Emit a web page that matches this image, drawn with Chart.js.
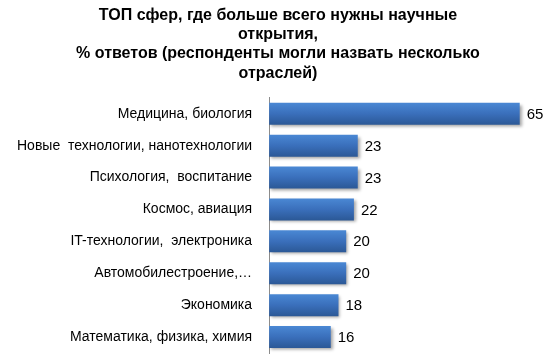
<!DOCTYPE html>
<html>
<head>
<meta charset="utf-8">
<script src="https://cdn.jsdelivr.net/npm/chart.js@4.4.0/dist/chart.umd.min.js"></script>
<style>
  html, body { margin: 0; padding: 0; background: #fff; }
</style>
</head>
<body>
<canvas id="myChart" width="556" height="360"></canvas>
<script>
const titleLines = [
  'ТОП сфер, где больше всего нужны научные',
  'открытия,',
  '% ответов (респонденты могли назвать несколько',
  'отраслей)',
];
const categories = [
  'Медицина, биология',
  'Новые  технологии, нанотехнологии',
  'Психология,  воспитание',
  'Космос, авиация',
  'IT-технологии,  электроника',
  'Автомобилестроение,…',
  'Экономика',
  'Математика, физика, химия',
];
const values = [65, 23, 23, 22, 20, 20, 18, 16];

const FONT = 'Arial, "Liberation Sans", sans-serif';

// blue gradient per bar, from the y scale position of each category
const barFill = (ctx) => {
  const chart = ctx.chart;
  const y = chart.scales.y;
  if (!y || ctx.type !== 'data') return '#3b70bb';
  const c = y.getPixelForValue(ctx.dataIndex);
  const half = (y.height / categories.length) * 0.69 / 2;
  if (!isFinite(c) || !isFinite(half) || half <= 0) return '#3b70bb';
  const g = chart.ctx.createLinearGradient(0, c - half, 0, c + half);
  g.addColorStop(0, '#4a88d4');
  g.addColorStop(0.5, '#3a6fbb');
  g.addColorStop(1, '#2b5896');
  return g;
};

const shadowPlugin = {
  id: 'barShadow',
  beforeDatasetsDraw(chart) {
    const c = chart.ctx;
    c.save();
    c.shadowColor = 'rgba(0,0,0,0.35)';
    c.shadowBlur = 3;
    c.shadowOffsetX = 2;
    c.shadowOffsetY = 2;
  },
  afterDatasetsDraw(chart) {
    chart.ctx.restore();
  },
};

const valueLabels = {
  id: 'valueLabels',
  afterDatasetsDraw(chart) {
    const c = chart.ctx;
    const meta = chart.getDatasetMeta(0);
    c.save();
    c.font = '15px ' + FONT;
    c.fillStyle = '#000';
    c.textAlign = 'left';
    c.textBaseline = 'middle';
    meta.data.forEach((bar, i) => {
      c.fillText(String(values[i]), bar.x + 7, bar.y + 1);
    });
    c.restore();
  },
};

new Chart(document.getElementById('myChart'), {
  type: 'bar',
  data: {
    labels: categories,
    datasets: [{
      data: values,
      backgroundColor: barFill,
      borderWidth: 0,
      categoryPercentage: 1,
      barPercentage: 0.69,
    }],
  },
  options: {
    indexAxis: 'y',
    responsive: false,
    animation: false,
    layout: { padding: { top: 6, right: 17, bottom: 0, left: 17 } },
    plugins: {
      legend: { display: false },
      tooltip: { enabled: false },
      title: {
        display: true,
        text: titleLines,
        color: '#000',
        font: { family: FONT, size: 16, weight: 'bold', lineHeight: 1.2 },
        padding: { top: 0, bottom: 15 },
      },
    },
    scales: {
      x: {
        min: 0,
        max: 70,
        display: false,
      },
      y: {
        // tick marks take the gap between labels and axis; kept invisible
        grid: { display: false, drawTicks: true, tickLength: 17, tickColor: 'rgba(0,0,0,0)' },
        border: { display: true, color: '#8c8c8c', width: 1 },
        ticks: {
          color: '#000',
          font: { family: FONT, size: 14, lineHeight: 1 },
          padding: 0,
        },
      },
    },
  },
  plugins: [shadowPlugin, valueLabels],
});
</script>
</body>
</html>
